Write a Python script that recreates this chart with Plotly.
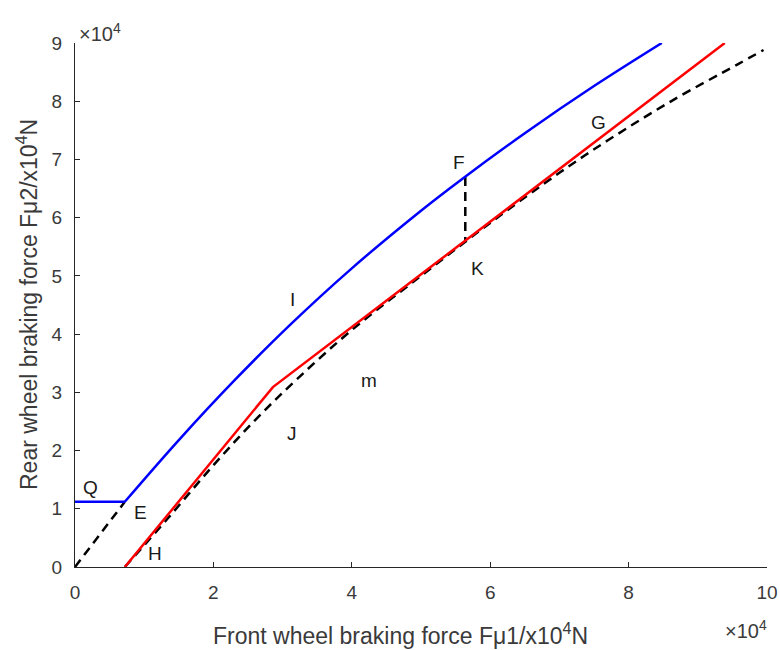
import plotly.graph_objects as go

# values in units of 1e4 N
blue_flat_x = [0.0, 0.72]
blue_flat_y = [1.12, 1.12]
blue_x = [0.72, 1.50, 2.30, 3.10, 4.00, 5.00, 5.60, 6.50, 7.50, 8.48]
blue_y = [1.12, 2.18, 3.20, 4.15, 5.13, 6.12, 6.67, 7.45, 8.26, 9.00]

red_x = [0.72, 2.86, 9.39]
red_y = [0.0, 3.09, 9.00]

dash1_x = [0.0, 0.72]
dash1_y = [0.0, 1.12]

dash2_x = [0.72, 1.33, 1.98, 2.60, 3.22, 4.00, 5.00, 6.00, 7.00, 7.69, 8.60, 9.57, 9.95]
dash2_y = [0.0, 0.82, 1.72, 2.52, 3.24, 4.07, 5.00, 5.91, 6.77, 7.32, 7.99, 8.63, 8.88]

fk_x = [5.64, 5.64]
fk_y = [6.70, 5.60]

labels = ["Q", "E", "H", "I", "J", "m", "F", "K", "G"]
label_x = [0.22, 0.94, 1.16, 3.15, 3.14, 4.25, 5.55, 5.81, 7.56]
label_y = [1.36, 0.93, 0.24, 4.59, 2.30, 3.20, 6.94, 5.12, 7.63]

x_ticks = [0, 2, 4, 6, 8, 10]
y_ticks = [0, 1, 2, 3, 4, 5, 6, 7, 8, 9]

FONT = "Liberation Sans, Arial, sans-serif"
AX = "#262626"
TXT = "#3a3a3a"

fig = go.Figure()
fig.add_trace(go.Scatter(x=dash1_x, y=dash1_y, mode="lines",
                         line=dict(color="black", width=2.5, dash="9px,6px")))
fig.add_trace(go.Scatter(x=dash2_x, y=dash2_y, mode="lines",
                         line=dict(color="black", width=2.5, dash="9px,6px", shape="spline", smoothing=1)))
fig.add_trace(go.Scatter(x=fk_x, y=fk_y, mode="lines",
                         line=dict(color="black", width=2.5, dash="9px,6px")))
fig.add_trace(go.Scatter(x=blue_flat_x, y=blue_flat_y, mode="lines",
                         line=dict(color="#0000ff", width=2.5)))
fig.add_trace(go.Scatter(x=blue_x, y=blue_y, mode="lines",
                         line=dict(color="#0000ff", width=2.5, shape="spline", smoothing=1)))
fig.add_trace(go.Scatter(x=red_x, y=red_y, mode="lines",
                         line=dict(color="#ff0000", width=2.5)))

for t, lx, ly in zip(labels, label_x, label_y):
    fig.add_annotation(x=lx, y=ly, text=t, showarrow=False,
                       font=dict(family=FONT, size=19, color="#1a1a1a"))

# exponent markers
fig.add_annotation(xref="paper", yref="paper", x=0.0, y=1.0, xanchor="left", yanchor="bottom",
                   xshift=2, yshift=-4, text="×10<sup>4</sup>", showarrow=False,
                   font=dict(family=FONT, size=20, color=TXT))
fig.add_annotation(xref="paper", yref="paper", x=1.0, y=0.0, xanchor="right", yanchor="top",
                   yshift=-48, xshift=2, text="×10<sup>4</sup>", showarrow=False,
                   font=dict(family=FONT, size=20, color=TXT))

# axis titles
fig.add_annotation(xref="paper", yref="paper", x=0.47, y=0.0, xanchor="center", yanchor="top",
                   yshift=-50, text="Front wheel braking force Fμ1/x10<sup>4</sup>N", showarrow=False,
                   font=dict(family=FONT, size=23, color=TXT))
fig.add_annotation(xref="paper", yref="paper", x=0.0, y=0.5, xanchor="right", yanchor="middle",
                   xshift=-31, textangle=-90,
                   text="Rear wheel braking force Fμ2/x10<sup>4</sup>N", showarrow=False,
                   font=dict(family=FONT, size=23, color=TXT))

fig.update_layout(
    width=780, height=650,
    margin=dict(l=75, r=13, t=43, b=83),
    plot_bgcolor="white", paper_bgcolor="white",
    showlegend=False,
    font=dict(family=FONT, size=19, color=TXT),
    xaxis=dict(range=[0, 10], tickvals=x_ticks, ticktext=[str(v) for v in x_ticks],
               showgrid=False, zeroline=False, showline=True, linecolor=AX, linewidth=1.2,
               ticks="inside", ticklen=5, tickcolor=AX, mirror=False, automargin=False,
               ticklabelstandoff=8),
    yaxis=dict(range=[0, 9], tickvals=y_ticks, ticktext=[str(v) for v in y_ticks],
               showgrid=False, zeroline=False, showline=True, linecolor=AX, linewidth=1.2,
               ticks="inside", ticklen=5, tickcolor=AX, mirror=False, automargin=False,
               ticklabelstandoff=8),
)

fig.write_html("out.html")
